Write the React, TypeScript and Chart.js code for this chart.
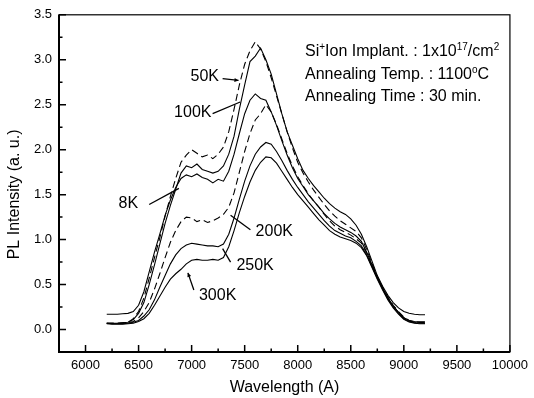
import React, { useEffect, useRef } from "react";
import { Chart, registerables } from "chart.js";

Chart.register(...registerables);

const FONT = '"Liberation Sans", Arial, Helvetica, sans-serif';

const wavelengths = [
  6200, 6250, 6300, 6350, 6400, 6450, 6500, 6550, 6600, 6650,
  6700, 6750, 6800, 6850, 6900, 6950, 7000, 7050, 7100, 7150,
  7200, 7250, 7300, 7350, 7400, 7450, 7500, 7550, 7600, 7650,
  7700, 7750, 7800, 7850, 7900, 7950, 8000, 8050, 8100, 8150,
  8200, 8250, 8300, 8350, 8400, 8450, 8500, 8550, 8600, 8650,
  8700, 8750, 8800, 8850, 8900, 8950, 9000, 9050, 9100, 9150,
  9200,
];

const pl8K = [
  0.17, 0.17, 0.17, 0.175, 0.18, 0.2, 0.27, 0.42, 0.64, 0.86,
  1.06, 1.27, 1.44, 1.58, 1.68, 1.72, 1.7, 1.73, 1.69, 1.67,
  1.63, 1.67, 1.65, 1.76, 1.95, 2.18, 2.4, 2.55, 2.62, 2.57,
  2.55, 2.42, 2.27, 2.1, 1.94, 1.8, 1.68, 1.59, 1.5, 1.43,
  1.36, 1.29, 1.23, 1.18, 1.14, 1.11, 1.08, 1.04, 0.98, 0.86,
  0.72, 0.58, 0.46, 0.35, 0.26, 0.19, 0.13, 0.1, 0.09, 0.085,
  0.085,
];

const pl50K = [
  0.07, 0.07, 0.07, 0.075, 0.08, 0.12, 0.2, 0.35, 0.57, 0.8,
  1.02, 1.26, 1.48, 1.68, 1.86, 1.94, 2.0, 1.96, 1.92, 1.94,
  1.9, 1.95, 2.03, 2.2, 2.45, 2.72, 2.95, 3.1, 3.2, 3.12,
  2.98, 2.8, 2.6, 2.4, 2.2, 2.02, 1.86, 1.74, 1.64, 1.55,
  1.47, 1.39, 1.32, 1.26, 1.21, 1.17, 1.13, 1.09, 1.02, 0.89,
  0.74, 0.59, 0.47, 0.36, 0.27, 0.2, 0.14, 0.1, 0.085, 0.08,
  0.08,
];

const pl100K = [
  0.07, 0.07, 0.07, 0.075, 0.08, 0.11, 0.18, 0.3, 0.5, 0.72,
  0.95, 1.18, 1.38, 1.56, 1.74, 1.82, 1.8, 1.84, 1.78, 1.76,
  1.74, 1.76, 1.82, 1.95, 2.15, 2.45, 2.72, 2.98, 3.04, 3.13,
  3.0, 2.84, 2.62, 2.4, 2.2, 2.05, 1.9, 1.77, 1.68, 1.6,
  1.53, 1.46, 1.4, 1.35, 1.31, 1.28, 1.23, 1.16, 1.06, 0.92,
  0.76, 0.6, 0.48, 0.38, 0.3, 0.24, 0.2, 0.18, 0.17, 0.165,
  0.165,
];

const pl200K = [
  0.07, 0.07, 0.07, 0.07, 0.075, 0.09, 0.13, 0.2, 0.3, 0.45,
  0.62, 0.8, 0.97, 1.1, 1.2, 1.25, 1.24, 1.2, 1.22, 1.19,
  1.21, 1.24, 1.28, 1.36, 1.52, 1.75, 1.98, 2.18, 2.33, 2.4,
  2.5, 2.42, 2.28, 2.12, 1.96, 1.82, 1.7, 1.6, 1.51, 1.43,
  1.36, 1.28, 1.21, 1.15, 1.11, 1.08, 1.05, 1.01, 0.96, 0.85,
  0.71, 0.58, 0.46, 0.35, 0.26, 0.19, 0.13, 0.095, 0.08, 0.075,
  0.075,
];

const pl250K = [
  0.07, 0.065, 0.065, 0.065, 0.07, 0.08, 0.1, 0.15, 0.22, 0.33,
  0.47, 0.6, 0.73, 0.83, 0.9, 0.94, 0.96, 0.95, 0.94, 0.93,
  0.93, 0.92, 0.95, 1.06, 1.24, 1.45, 1.65, 1.82, 1.95, 2.03,
  2.08, 2.06, 1.98, 1.88, 1.77, 1.67, 1.58, 1.5, 1.42, 1.35,
  1.28, 1.21, 1.15, 1.1, 1.07, 1.04, 1.02, 0.98, 0.93, 0.83,
  0.7, 0.57, 0.45, 0.34, 0.25, 0.18, 0.12, 0.09, 0.075, 0.07,
  0.07,
];

const pl300K = [
  0.065, 0.06, 0.06, 0.06, 0.065, 0.07, 0.09, 0.12, 0.18, 0.27,
  0.37, 0.47, 0.56, 0.62, 0.67, 0.73, 0.77, 0.78, 0.77, 0.77,
  0.78, 0.77, 0.8, 0.92, 1.1, 1.3, 1.48, 1.64, 1.77, 1.86,
  1.92, 1.91, 1.85, 1.76, 1.67, 1.58, 1.5, 1.43, 1.36, 1.29,
  1.22, 1.16, 1.1, 1.06, 1.03, 1.01, 0.99, 0.96, 0.91, 0.82,
  0.69, 0.56, 0.44, 0.33, 0.24, 0.17, 0.115, 0.085, 0.07, 0.065,
  0.065,
];

const seriesNames = ["8K", "50K", "100K", "200K", "250K", "300K"];
const seriesValues = [pl8K, pl50K, pl100K, pl200K, pl250K, pl300K];
const seriesDashed = [false, true, false, true, false, false];

const xMajorTicks = [6000, 6500, 7000, 7500, 8000, 8500, 9000, 9500, 10000];
const xMinorTicks = [5750, 6250, 6750, 7250, 7750, 8250, 8750, 9250, 9750];
const yMajorTicks = [0, 0.5, 1.0, 1.5, 2.0, 2.5, 3.0, 3.5];
const yMinorTicks = [-0.25, 0.25, 0.75, 1.25, 1.75, 2.25, 2.75, 3.25];

const xTitle = "Wavelength (A)";
const yTitle = "PL Intensity (a. u.)";

// annotation placement (data coordinates)
const labelAt = [
  [6403, 1.4], [7124, 2.81], [7011, 2.41], [7779, 1.09], [7598, 0.71], [7245, 0.38],
];
const arrowFrom = [
  [6600, 1.39], [7292, 2.79], [7198, 2.4], [7554, 1.11], [7367, 0.75], [7021, 0.44],
];
const arrowTo = [
  [6880, 1.57], [7442, 2.77], [7458, 2.53], [7367, 1.27], [7292, 0.9], [6965, 0.63],
];
const arrowHead = [false, true, false, false, false, true];

const infoLines = [
  [{ t: "Si" }, { t: "+", sup: true }, { t: "Ion Implant. : 1x10" }, { t: "17", sup: true }, { t: "/cm" }, { t: "2", sup: true }],
  [{ t: "Annealing Temp. : 1100" }, { t: "o", sup: true }, { t: "C" }],
  [{ t: "Annealing Time : 30 min." }],
];
const infoX = 8069;
const infoY = [3.04, 2.785, 2.537];

const decor = {
  id: "decor",
  afterDraw(chart: any) {
    const { ctx, chartArea: a } = chart;
    const xs = chart.scales.x;
    const ys = chart.scales.y;
    ctx.save();
    ctx.strokeStyle = "#000";
    ctx.fillStyle = "#000";
    // frame
    ctx.lineWidth = 1.2;
    ctx.strokeRect(a.left, a.top, a.right - a.left, a.bottom - a.top);
    ctx.lineWidth = 2;
    ctx.beginPath();
    ctx.moveTo(a.left, a.top);
    ctx.lineTo(a.left, a.bottom);
    ctx.lineTo(a.right, a.bottom);
    ctx.stroke();
    // inward ticks
    ctx.lineWidth = 1.5;
    ctx.beginPath();
    xMajorTicks.forEach((v) => {
      const p = xs.getPixelForValue(v);
      ctx.moveTo(p, a.bottom);
      ctx.lineTo(p, a.bottom - 7);
    });
    xMinorTicks.forEach((v) => {
      const p = xs.getPixelForValue(v);
      ctx.moveTo(p, a.bottom);
      ctx.lineTo(p, a.bottom - 3.5);
    });
    yMajorTicks.forEach((v) => {
      const p = ys.getPixelForValue(v);
      ctx.moveTo(a.left, p);
      ctx.lineTo(a.left + 7, p);
    });
    yMinorTicks.forEach((v) => {
      const p = ys.getPixelForValue(v);
      ctx.moveTo(a.left, p);
      ctx.lineTo(a.left + 3.5, p);
    });
    ctx.stroke();

    // series labels and arrows
    ctx.font = `16px ${FONT}`;
    ctx.textAlign = "center";
    ctx.textBaseline = "middle";
    seriesNames.forEach((name, i) => {
      ctx.fillText(name, xs.getPixelForValue(labelAt[i][0]), ys.getPixelForValue(labelAt[i][1]));
    });
    ctx.lineWidth = 1.3;
    seriesNames.forEach((_, i) => {
      const x0 = xs.getPixelForValue(arrowFrom[i][0]);
      const y0 = ys.getPixelForValue(arrowFrom[i][1]);
      const x1 = xs.getPixelForValue(arrowTo[i][0]);
      const y1 = ys.getPixelForValue(arrowTo[i][1]);
      ctx.beginPath();
      ctx.moveTo(x0, y0);
      ctx.lineTo(x1, y1);
      ctx.stroke();
      if (arrowHead[i]) {
        const ang = Math.atan2(y1 - y0, x1 - x0);
        const L = 4.5;
        ctx.beginPath();
        ctx.moveTo(x1, y1);
        ctx.lineTo(x1 - L * Math.cos(ang - 0.45), y1 - L * Math.sin(ang - 0.45));
        ctx.lineTo(x1 - L * Math.cos(ang + 0.45), y1 - L * Math.sin(ang + 0.45));
        ctx.closePath();
        ctx.fill();
      }
    });

    // info text
    ctx.textAlign = "left";
    ctx.textBaseline = "alphabetic";
    infoLines.forEach((segs, li) => {
      let x = xs.getPixelForValue(infoX);
      const y = ys.getPixelForValue(infoY[li]);
      segs.forEach((s: any) => {
        if (s.sup) {
          ctx.font = `10px ${FONT}`;
          ctx.fillText(s.t, x, y - 6.5);
        } else {
          ctx.font = `16px ${FONT}`;
          ctx.fillText(s.t, x, y);
        }
        x += ctx.measureText(s.t).width;
      });
    });

    // axis titles
    ctx.font = `16px ${FONT}`;
    ctx.textAlign = "center";
    ctx.textBaseline = "middle";
    ctx.fillText(xTitle, (a.left + a.right) / 2, 388);
    ctx.save();
    ctx.translate(14.5, (a.top + a.bottom) / 2 + 11);
    ctx.rotate(-Math.PI / 2);
    ctx.fillText(yTitle, 0, 0);
    ctx.restore();
    ctx.restore();
  },
};

export default function App() {
  const ref = useRef<HTMLCanvasElement>(null);
  useEffect(() => {
    document.body.style.margin = "0";
    const chart = new Chart(ref.current!, {
      type: "line",
      data: {
        datasets: seriesNames.map((name, i) => ({
          label: name,
          data: wavelengths.map((w, j) => ({ x: w, y: seriesValues[i][j] })),
          borderColor: "#000",
          borderWidth: 1.1,
          borderDash: seriesDashed[i] ? [7, 4] : [],
          pointRadius: 0,
          tension: 0,
          fill: false,
        })),
      },
      options: {
        animation: false,
        responsive: false,
        layout: { padding: { left: 0, top: 14, right: 20, bottom: 0 } },
        plugins: { legend: { display: false }, tooltip: { enabled: false } },
        scales: {
          x: {
            type: "linear",
            min: 5750,
            max: 10000,
            afterBuildTicks: (s: any) => {
              s.ticks = xMajorTicks.map((v) => ({ value: v }));
            },
            afterFit: (s: any) => {
              s.height = 46;
            },
            grid: { display: false, drawTicks: false },
            border: { display: false },
            ticks: {
              padding: 6,
              maxRotation: 0,
              autoSkip: false,
              color: "#000",
              font: { family: FONT, size: 13 },
              callback: (v: any) => String(v),
            },
          },
          y: {
            type: "linear",
            min: -0.25,
            max: 3.5,
            afterBuildTicks: (s: any) => {
              s.ticks = yMajorTicks.map((v) => ({ value: v }));
            },
            afterFit: (s: any) => {
              s.width = 59;
            },
            grid: { display: false, drawTicks: false },
            border: { display: false },
            ticks: {
              padding: 7,
              autoSkip: false,
              color: "#000",
              font: { family: FONT, size: 13 },
              callback: (v: any) => Number(v).toFixed(1),
            },
          },
        },
      },
      plugins: [decor],
    });
    return () => chart.destroy();
  }, []);
  return (
    <div style={{ position: "fixed", left: 0, top: 0, width: 534, height: 398, background: "#fff" }}>
      <canvas ref={ref} width={534} height={398} style={{ display: "block" }} />
    </div>
  );
}
